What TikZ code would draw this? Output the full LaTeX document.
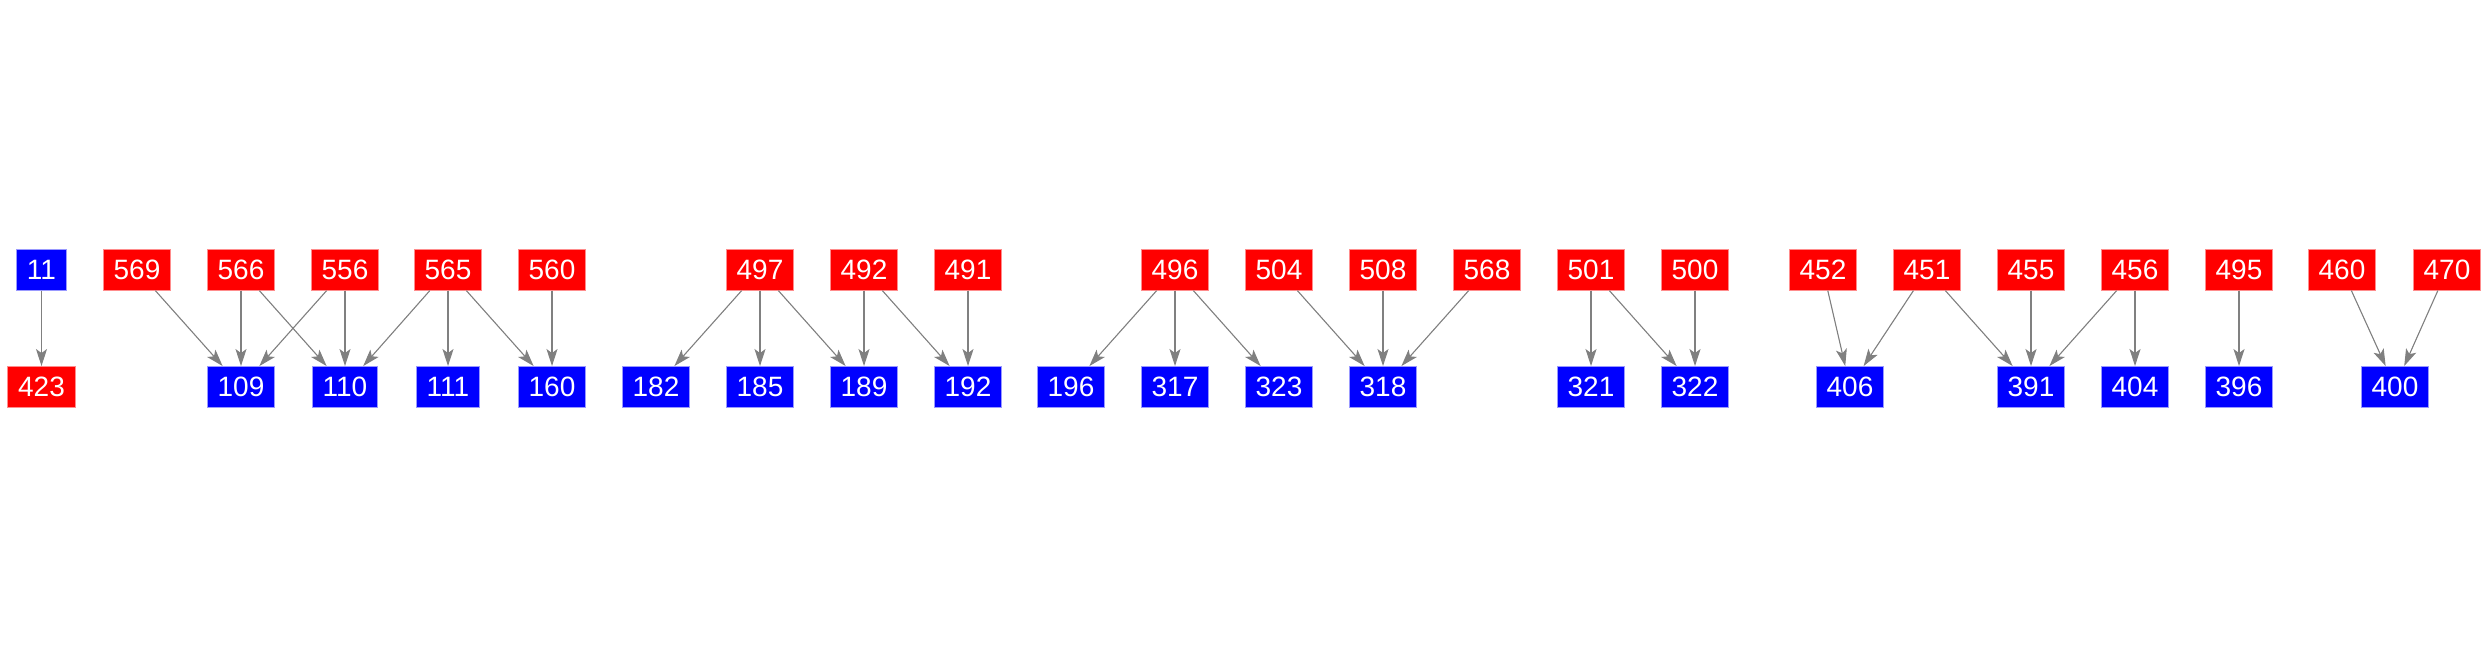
\documentclass[tikz,border=0pt]{standalone}
\usepackage{fontspec}
\setmainfont{Liberation Sans}
\usepackage{tikz}
\usetikzlibrary{arrows.meta}

\begin{document}
\begin{tikzpicture}[x=1pt, y=1pt,
  box/.style={text=white, font=\fontsize{28}{30}\selectfont, minimum height=41.3pt, inner xsep=10.5pt, inner ysep=0pt, outer sep=0pt, line width=0.8pt},
  src/.style={box, fill=red, draw=red!45!white},
  dst/.style={box, fill=blue, draw=blue!40!white},
  arr/.style={-{Stealth[length=17pt, width=11pt, inset=4pt]}, draw=gray, fill=gray, line width=1.1pt}
]
\useasboundingbox (0,0) rectangle (2488,656);

% upper row
\node[dst] (n11) at (41.5,386) {11};
\foreach \lbl/\x in {569/137, 566/241, 556/345, 565/448, 560/552,
                     497/760, 492/864, 491/968,
                     496/1175, 504/1279, 508/1383, 568/1487,
                     501/1591, 500/1695,
                     452/1823, 451/1927, 455/2031, 456/2135, 495/2239, 460/2342, 470/2447}
  \node[src] (n\lbl) at (\x,386) {\lbl};

% lower row
\node[src] (n423) at (41.5,269.3) {423};
\foreach \lbl/\x in {109/241, 110/345, 111/448, 160/552,
                     182/656, 185/760, 189/864, 192/968,
                     196/1071, 317/1175, 323/1279, 318/1383,
                     321/1591, 322/1695,
                     406/1850, 391/2031, 404/2135, 396/2239, 400/2395}
  \node[dst] (n\lbl) at (\x,269.3) {\lbl};

% edges
\foreach \a/\b in {11/423, 569/109, 566/109, 566/110, 556/109, 556/110,
                   565/110, 565/111, 565/160, 560/160,
                   497/182, 497/185, 497/189, 492/189, 492/192, 491/192,
                   496/196, 496/317, 496/323, 504/318, 508/318, 568/318,
                   501/321, 501/322, 500/322,
                   452/406, 451/406, 451/391, 455/391, 456/391, 456/404,
                   495/396, 460/400, 470/400}
  \draw[arr] (n\a) -- (n\b);

\end{tikzpicture}
\end{document}
